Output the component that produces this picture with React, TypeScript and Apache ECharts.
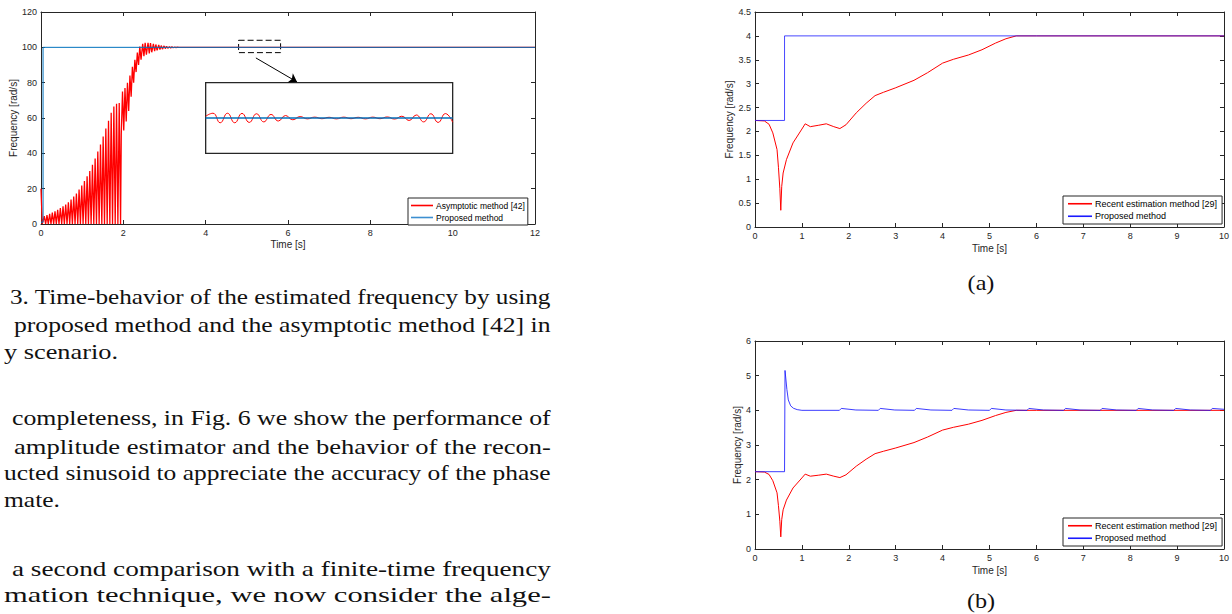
import React, { useEffect, useRef } from "react";
import * as echarts from "echarts";

const AX = "#262626";
const SANS = "Liberation Sans";
const SERIF = "Liberation Serif";

// ---------- Fig. 3 (left): asymptotic method vs proposed ----------
const leftRedName = "Asymptotic method [42]";
const leftBlueName = "Proposed method";
const leftRedColor = "#ff0000";
const leftBlueColor = "#0072bd";
// start of the red estimate
const leftRedStartT = [0, 0.03];
const leftRedStartV = [20, 0];
// spiky growth phase: one peak per cycle, returning to 0 in between
const leftSpikeStart = 0.08;
const leftSpikePeriod = 0.065;
const leftSpikePeaks = [
  4.5, 5, 5.8, 6.5, 7.2, 8, 9, 10, 11, 12.3, 13.8, 15.5, 17.3, 19.5, 21.8,
  24.3, 27, 30, 33.5, 37, 41, 45, 49.5, 54, 58.5, 63, 66.5, 68, 68.5,
];
// settling phase (alternating troughs / peaks)
const leftSettleT = [
  1.95, 1.98, 2.01, 2.04, 2.07, 2.1, 2.13, 2.16, 2.19, 2.22, 2.25, 2.28, 2.31,
  2.34, 2.37, 2.4, 2.43, 2.47, 2.5, 2.53, 2.56, 2.6, 2.63, 2.66, 2.69, 2.73,
  2.76, 2.79, 2.82, 2.86, 2.89, 2.92, 2.95, 2.99, 3.02, 3.05, 3.08, 3.12, 3.15,
  3.18, 3.21, 3.25, 3.28, 3.31, 3.35, 3.4, 12,
];
const leftSettleV = [
  51, 75, 53, 77, 58, 80, 64, 84, 72, 89, 80, 93, 86, 97, 90, 100.5, 93, 102,
  95, 102.5, 95.8, 102.6, 96.5, 102.4, 97.2, 102, 97.8, 101.6, 98.3, 101.3,
  98.7, 101, 99, 100.8, 99.3, 100.6, 99.5, 100.4, 99.65, 100.3, 99.78, 100.2,
  99.85, 100.12, 99.92, 100, 100,
];
const leftBlueT = [0, 0.05, 0.05, 12];
const leftBlueV = [1, 1, 100, 100];
// zoom box + inset
const zoomBoxT = [4.8, 5.82];
const zoomBoxV = [104, 97];
const arrowFrom = [5.22, 94];
const arrowTo = [6.22, 80.4];
const insetRangeT = [4, 10];
const insetRangeV = [40, 80];
const insetT = [4.8, 5.82];
const insetV = [98, 102];
const insetRedExtrema = [
  100.1, 100.27, 99.73, 100.27, 99.73, 100.26, 99.75, 100.24, 99.78, 100.2,
  99.83, 100.14, 99.9, 100.08, 99.95, 100.05, 99.96, 100.04, 99.95, 100.05,
  99.96, 100.04, 99.95, 100.05, 99.96, 100.06, 99.94, 100.1, 99.86, 100.17,
  99.78, 100.24, 99.75, 100.25, 99.76,
];
const insetBlueV = [100, 100];

// ---------- Fig. (a) / (b) (right) ----------
const rightRedName = "Recent estimation method [29]";
const rightBlueName = "Proposed method";
const rightRedColor = "#ff0000";
const rightBlueColor = "#1a1aff";
const rightRedT = [
  0, 0.2, 0.3, 0.38, 0.47, 0.5, 0.53, 0.55, 0.57, 0.6, 0.67, 0.81, 1.0, 1.07,
  1.18, 1.36, 1.52, 1.68, 1.81, 1.94, 2.16, 2.37, 2.56, 2.74, 2.99, 3.39, 3.68,
  4.0, 4.23, 4.55, 4.84, 5.13, 5.35, 5.57, 6, 10,
];
const rightRedV = [
  2.23, 2.22, 2.15, 1.97, 1.62, 1.25, 0.8, 0.35, 0.85, 1.13, 1.41, 1.76, 2.05,
  2.16, 2.1, 2.13, 2.16, 2.1, 2.06, 2.14, 2.39, 2.59, 2.75, 2.82, 2.91, 3.07,
  3.23, 3.43, 3.51, 3.6, 3.71, 3.85, 3.94, 4.0, 4.0, 4.0,
];
const blueAT = [0, 0.63, 0.63, 10];
const blueAV = [2.23, 2.23, 4, 4];
const blueBT = [
  0, 0.63, 0.64, 0.68, 0.71, 0.76, 0.82, 0.9, 1.0,
  1.8, 1.84, 2.15, 2.63, 2.67, 2.98, 3.4, 3.44, 3.75, 4.2, 4.24, 4.55,
  5.0, 5.04, 5.35, 5.8, 5.84, 6.15, 6.58, 6.62, 6.93, 7.36, 7.4, 7.71,
  8.13, 8.17, 8.48, 8.93, 8.97, 9.28, 9.71, 9.75, 10,
];
const blueBV = [
  2.23, 2.23, 5.15, 4.6, 4.3, 4.13, 4.06, 4.02, 4.0,
  4.0, 4.055, 4.01, 4.0, 4.055, 4.01, 4.0, 4.055, 4.01, 4.0, 4.055, 4.01,
  4.0, 4.055, 4.01, 4.0, 4.055, 4.01, 4.0, 4.055, 4.01, 4.0, 4.055, 4.01,
  4.0, 4.055, 4.01, 4.0, 4.055, 4.01, 4.0, 4.055, 4.03,
];

// ---------- surrounding page text ----------
const bodyLines = [
  { text: "3. Time-behavior of the estimated frequency by using", x0: 10, x1: 551, y: 297 },
  { text: "proposed method and the asymptotic method [42] in", x0: 14, x1: 551, y: 325 },
  { text: "y scenario.", x0: 4, x1: 118, y: 351 },
  { text: "completeness, in Fig. 6 we show the performance of", x0: 12, x1: 551, y: 418 },
  { text: "amplitude estimator and the behavior of the recon-", x0: 14, x1: 551, y: 446 },
  { text: "ucted sinusoid to appreciate the accuracy of the phase", x0: 4, x1: 551, y: 473 },
  { text: "mate.", x0: 4, x1: 60, y: 500 },
  { text: "a second comparison with a finite-time frequency", x0: 12, x1: 551, y: 568 },
  { text: "mation technique, we now consider the alge-", x0: 4, x1: 551, y: 595 },
];
const subCaptions = [
  { text: "(a)", x: 981, y: 282 },
  { text: "(b)", x: 981, y: 600 },
];

const zip = (t: number[], v: number[]) => t.map((x, i) => [x, v[i]]);

function buildLeftRed() {
  const d: number[][] = zip(leftRedStartT, leftRedStartV);
  leftSpikePeaks.forEach((p, i) => {
    const t = leftSpikeStart + i * leftSpikePeriod;
    d.push([t, p]);
    d.push([t + leftSpikePeriod / 2, 0]);
  });
  return d.concat(zip(leftSettleT, leftSettleV));
}

function buildInsetRed() {
  const n = insetRedExtrema.length;
  return insetRedExtrema.map((v, i) => [
    insetT[0] + (i * (insetT[1] - insetT[0])) / (n - 1),
    v,
  ]);
}

const tickLabel = { color: AX, fontSize: 9, fontFamily: SANS };
const nameStyle = { color: AX, fontSize: 10, fontFamily: SANS };

function xAxisPair(grid: number, min: number, max: number, interval: number, nameGap: number) {
  const base = {
    type: "value",
    gridIndex: grid,
    min,
    max,
    interval,
    splitLine: { show: false },
    axisLine: { show: true, onZero: false, lineStyle: { color: AX, width: 1 } },
    axisTick: { show: true, inside: true, length: 4, lineStyle: { color: AX, width: 1 } },
  };
  return [
    {
      ...base,
      position: "bottom",
      name: "Time [s]",
      nameLocation: "middle",
      nameGap,
      nameTextStyle: nameStyle,
      axisLabel: { ...tickLabel, margin: 4 },
    },
    { ...base, position: "top", axisLabel: { show: false } },
  ];
}

function yAxisPair(grid: number, min: number, max: number, interval: number, nameGap: number) {
  const base = {
    type: "value",
    gridIndex: grid,
    min,
    max,
    interval,
    splitLine: { show: false },
    axisLine: { show: true, onZero: false, lineStyle: { color: AX, width: 1 } },
    axisTick: { show: true, inside: true, length: 4, lineStyle: { color: AX, width: 1 } },
  };
  return [
    {
      ...base,
      position: "left",
      name: "Frequency [rad/s]",
      nameLocation: "middle",
      nameGap,
      nameTextStyle: nameStyle,
      axisLabel: { ...tickLabel, margin: 4 },
    },
    { ...base, position: "right", axisLabel: { show: false } },
  ];
}

function legendBox(
  left: number,
  top: number,
  fontSize: number,
  itemWidth: number,
  padX: number,
  items: { name: string; color: string }[]
) {
  return {
    show: true,
    left,
    top,
    orient: "vertical",
    icon: "rect",
    itemWidth,
    itemHeight: 1.6,
    itemGap: 1,
    padding: [2, padX, 2, padX],
    borderColor: AX,
    borderWidth: 1,
    borderRadius: 0,
    backgroundColor: "#ffffff",
    selectedMode: false,
    textStyle: {
      color: "#000",
      fontSize,
      fontFamily: SANS,
      lineHeight: fontSize + 2.5,
      padding: [0, 0, 0, -2],
    },
    data: items.map((it) => ({ name: it.name, itemStyle: { color: it.color } })),
  };
}

export default function App() {
  const ref = useRef<HTMLDivElement>(null);

  useEffect(() => {
    if (!ref.current) return;
    const chart = echarts.init(ref.current, undefined, { renderer: "svg" });

    const leftGrid = { left: 41, top: 12, width: 494, height: 212 };
    const insetGrid = {
      left: leftGrid.left + (insetRangeT[0] / 12) * leftGrid.width,
      top: leftGrid.top + ((120 - insetRangeV[1]) / 120) * leftGrid.height,
      width: ((insetRangeT[1] - insetRangeT[0]) / 12) * leftGrid.width,
      height: ((insetRangeV[1] - insetRangeV[0]) / 120) * leftGrid.height,
    };
    const gridA = { left: 755, top: 12, width: 470, height: 215 };
    const gridB = { left: 755, top: 341, width: 470, height: 208 };

    // text measurement for justified page lines
    const ctx = document.createElement("canvas").getContext("2d")!;
    const bodySize = 22;
    ctx.font = `${bodySize}px "${SERIF}"`;
    const textEls: any[] = bodyLines.map((l) => {
      const w = ctx.measureText(l.text).width || 1;
      return {
        type: "text",
        x: l.x0,
        y: l.y,
        scaleX: (l.x1 - l.x0) / w,
        silent: true,
        style: {
          text: l.text,
          x: 0,
          y: 0,
          fill: "#111",
          fontSize: bodySize,
          fontFamily: SERIF,
          align: "left",
          verticalAlign: "middle",
        },
      };
    });
    subCaptions.forEach((c) =>
      textEls.push({
        type: "text",
        x: c.x,
        y: c.y,
        scaleX: 1.1,
        silent: true,
        style: {
          text: c.text,
          x: 0,
          y: 0,
          fill: "#111",
          fontSize: bodySize,
          fontFamily: SERIF,
          align: "center",
          verticalAlign: "middle",
        },
      })
    );

    const [lx0, lx1] = xAxisPair(0, 0, 12, 2, 15);
    const [ly0, ly1] = yAxisPair(0, 0, 120, 20, 23);
    const [ax0, ax1] = xAxisPair(2, 0, 10, 1, 16);
    const [ay0, ay1] = yAxisPair(2, 0, 4.5, 0.5, 20);
    const [bx0, bx1] = xAxisPair(3, 0, 10, 1, 16);
    const [by0, by1] = yAxisPair(3, 0, 6, 1, 11);

    const insetX = { type: "value", gridIndex: 1, min: insetT[0], max: insetT[1], show: false };
    const insetY = { type: "value", gridIndex: 1, min: insetV[0], max: insetV[1], show: false };

    const option: any = {
      animation: false,
      backgroundColor: "#ffffff",
      grid: [
        { ...leftGrid, show: false },
        { ...insetGrid, show: true, borderColor: AX, borderWidth: 1.3, backgroundColor: "#ffffff", z: 5 },
        { ...gridA, show: false },
        { ...gridB, show: false },
      ],
      // xAxis order: 0 left-bottom, 1 left-top, 2 inset, 3 a-bottom, 4 a-top, 5 b-bottom, 6 b-top
      xAxis: [lx0, lx1, insetX, ax0, ax1, bx0, bx1],
      yAxis: [ly0, ly1, insetY, ay0, ay1, by0, by1],
      legend: [
        legendBox(408, 198, 8.5, 22, 3, [
          { name: leftRedName, color: leftRedColor },
          { name: leftBlueName, color: "#3d8fd1" },
        ]),
        legendBox(1063, 196, 9, 24, 5, [
          { name: rightRedName, color: rightRedColor },
          { name: rightBlueName, color: rightBlueColor },
        ]),
        legendBox(1063, 518, 9, 24, 5, [
          { name: rightRedName, color: rightRedColor },
          { name: rightBlueName, color: rightBlueColor },
        ]),
      ],
      series: [
        {
          type: "line",
          name: leftRedName,
          xAxisIndex: 0,
          yAxisIndex: 0,
          data: buildLeftRed(),
          symbol: "none",
          lineStyle: { color: leftRedColor, width: 1.3 },
          itemStyle: { color: leftRedColor },
          z: 2,
          markLine: {
            silent: true,
            symbol: ["none", "arrow"],
            symbolSize: 8,
            label: { show: false },
            lineStyle: { color: "#000", width: 1, type: "solid" },
            data: [[{ coord: arrowFrom }, { coord: arrowTo }]],
          },
        },
        {
          type: "line",
          name: leftBlueName,
          xAxisIndex: 0,
          yAxisIndex: 0,
          data: zip(leftBlueT, leftBlueV),
          symbol: "none",
          lineStyle: { color: leftBlueColor, width: 1 },
          itemStyle: { color: leftBlueColor },
          z: 3,
          markArea: {
            silent: true,
            itemStyle: { color: "rgba(0,0,0,0)", borderColor: "#000", borderWidth: 1, borderType: [6, 3] },
            data: [[{ coord: [zoomBoxT[0], zoomBoxV[0]] }, { coord: [zoomBoxT[1], zoomBoxV[1]] }]],
          },
        },
        {
          type: "line",
          name: leftRedName,
          xAxisIndex: 2,
          yAxisIndex: 2,
          data: buildInsetRed(),
          smooth: 0.5,
          symbol: "none",
          lineStyle: { color: leftRedColor, width: 1 },
          z: 6,
        },
        {
          type: "line",
          name: leftBlueName,
          xAxisIndex: 2,
          yAxisIndex: 2,
          data: zip(insetT, insetBlueV),
          symbol: "none",
          lineStyle: { color: leftBlueColor, width: 1.4 },
          z: 7,
        },
        {
          type: "line",
          name: rightRedName,
          xAxisIndex: 3,
          yAxisIndex: 3,
          data: zip(rightRedT, rightRedV),
          symbol: "none",
          lineStyle: { color: rightRedColor, width: 1 },
          itemStyle: { color: rightRedColor },
        },
        {
          type: "line",
          name: rightBlueName,
          xAxisIndex: 3,
          yAxisIndex: 3,
          data: zip(blueAT, blueAV),
          symbol: "none",
          lineStyle: { color: rightBlueColor, width: 1, opacity: 0.8 },
          itemStyle: { color: rightBlueColor },
        },
        {
          type: "line",
          name: rightRedName,
          xAxisIndex: 5,
          yAxisIndex: 5,
          data: zip(rightRedT, rightRedV),
          symbol: "none",
          lineStyle: { color: rightRedColor, width: 1 },
          itemStyle: { color: rightRedColor },
        },
        {
          type: "line",
          name: rightBlueName,
          xAxisIndex: 5,
          yAxisIndex: 5,
          data: zip(blueBT, blueBV),
          symbol: "none",
          lineStyle: { color: rightBlueColor, width: 1, opacity: 0.85 },
          itemStyle: { color: rightBlueColor },
        },
      ],
      graphic: textEls,
    };

    chart.setOption(option);
    return () => chart.dispose();
  }, []);

  return (
    <div
      ref={ref}
      style={{ position: "absolute", left: 0, top: 0, width: 1232, height: 614, background: "#fff" }}
    />
  );
}
